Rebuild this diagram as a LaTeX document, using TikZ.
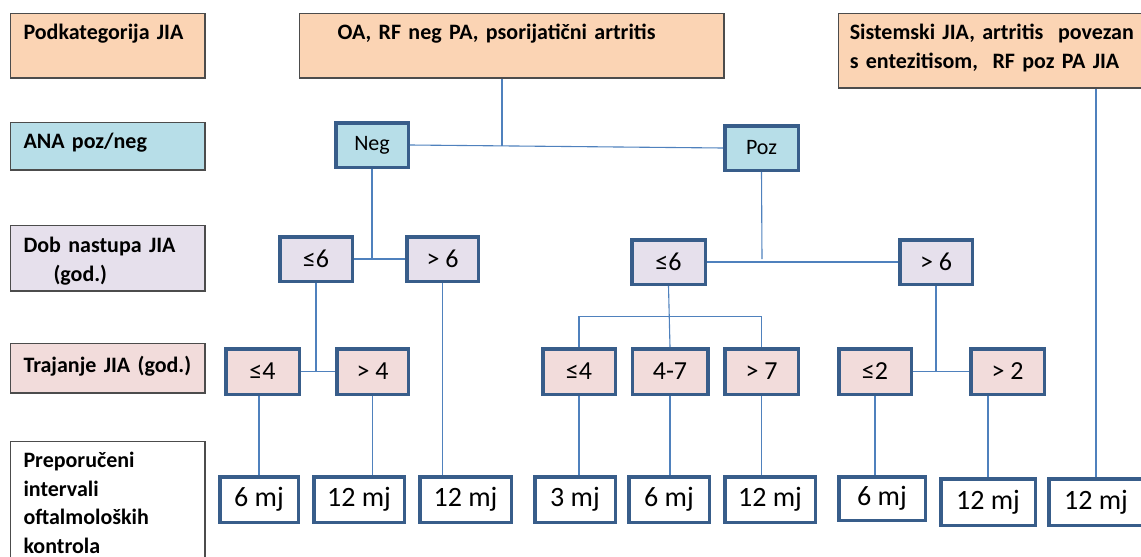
\documentclass[tikz,border=0pt]{standalone}
\usepackage{fontspec}
\setmainfont{Carlito}
\definecolor{peach}{HTML}{FBD4B4}
\definecolor{anab}{HTML}{B7DEE8}
\definecolor{dobb}{HTML}{E6E0EC}
\definecolor{trab}{HTML}{F2DCDB}
\definecolor{rub}{HTML}{385D8A}
\definecolor{vezab}{HTML}{4F81BD}
\begin{document}
\begin{tikzpicture}[x=1pt, y=-1pt,
    lbl/.style={draw=black!70, line width=1.5pt, anchor=north west, align=left, inner xsep=13pt, inner ysep=0pt, text width=168.5pt, font=\bfseries\fontsize{22}{28.5}\selectfont},
    kat/.style={draw=rub, line width=3.5pt, inner sep=0pt, minimum width=73pt, minimum height=44.5pt, font=\fontsize{26}{30}\selectfont},
    mj/.style={kat, fill=white, minimum height=45.5pt, font=\fontsize{28}{32}\selectfont},
    conn/.style={draw=vezab, line width=1.1pt}]
    \useasboundingbox (0,0) rectangle (1141,557);

    % lijevi stupac
    \node[lbl, fill=peach, text height=26.25pt, text depth=38.25pt] (podk) at (9.75,12.75) {Podkategorija JIA};
    \node[lbl, fill=anab, text height=26.25pt, text depth=21.25pt] (ana) at (9.75,121.75) {ANA poz/neg};
    \node[lbl, fill=dobb, text height=27.25pt, text depth=38.25pt] (dob) at (9.75,224.75) {Dob nastupa JIA\\\hspace*{30pt}(god.)};
    \node[lbl, fill=trab, text height=29.25pt, text depth=20.25pt] (traj) at (9.75,342.75) {Trajanje JIA (god.)};
    \node[lbl, fill=white, text height=26.25pt, text depth=130pt] (prep) at (9.75,440.75) {Preporučeni\\intervali\\oftalmoloških\\kontrola};

    % podkategorije
    \node[lbl, fill=peach, inner xsep=38pt, text width=348.5pt, text height=26.25pt, text depth=38.25pt] (oa) at (298.75,12.75) {OA, RF neg PA, psorijatični artritis};
    \node[lbl, fill=peach, inner xsep=11.25pt, text width=300pt, text height=26.25pt, text depth=48.25pt] (sist) at (837.75,12.75) {Sistemski JIA, artritis~ povezan\\s entezitisom,~ RF poz PA JIA};

    % ANA
    \node[kat, fill=anab, minimum width=72.5pt, font=\fontsize{22}{26}\selectfont] (neg) at (372,145) {Neg};
    \node[kat, fill=anab, minimum width=73.5pt, font=\fontsize{22}{26}\selectfont] (poz) at (761.5,148) {Poz};

    % dob nastupa
    \node[kat, fill=dobb, minimum width=72.5pt] (dl6) at (316,259) {≤6};
    \node[kat, fill=dobb, minimum width=71.5pt] (dg6) at (442.5,259) {> 6};
    \node[kat, fill=dobb, minimum width=73.5pt] (dr6) at (668.5,262) {≤6};
    \node[kat, fill=dobb, minimum width=72.5pt] (drg6) at (936,262) {> 6};

    % trajanje
    \node[kat, fill=trab, minimum width=73.5pt, minimum height=45.5pt] (tl4) at (262.5,371.5) {≤4};
    \node[kat, fill=trab, minimum width=71.5pt, minimum height=45.5pt] (tg4) at (372.5,371.5) {> 4};
    \node[kat, fill=trab, minimum width=72.5pt, minimum height=45.5pt] (tr4) at (579,371.5) {≤4};
    \node[kat, fill=trab, minimum width=75.5pt, minimum height=45.5pt] (tr47) at (670,371.5) {4-7};
    \node[kat, fill=trab, minimum width=73.5pt, minimum height=45.5pt] (trg7) at (761.5,371.5) {> 7};
    \node[kat, fill=trab, minimum width=72.5pt, minimum height=45.5pt] (tl2) at (875,371.5) {≤2};
    \node[kat, fill=trab, minimum width=73.5pt, minimum height=45.5pt] (tg2) at (1007.5,371.5) {> 2};

    % kontrole
    \node[mj, minimum width=78.5pt] (m1) at (259,499.5) {6 mj};
    \node[mj, minimum width=90.5pt] (m2) at (359,499.5) {12 mj};
    \node[mj, minimum width=91.5pt] (m3) at (465.5,499.5) {12 mj};
    \node[mj, minimum width=80.5pt] (m4) at (575,499.5) {3 mj};
    \node[mj, minimum width=80.5pt] (m5) at (669,499.5) {6 mj};
    \node[mj, minimum width=90.5pt] (m6) at (770,499.5) {12 mj};
    \node[mj, minimum width=86.5pt, minimum height=43.5pt] (m7) at (882,498.5) {6 mj};
    \node[mj, minimum width=94.5pt, minimum height=46.5pt] (m8) at (988,502) {12 mj};
    \node[mj, minimum width=94.5pt, minimum height=46.5pt] (m9) at (1096,502) {12 mj};

    \coordinate (ana1) at (502,146);
    \coordinate (poz1) at (762,259);
    \coordinate (v1) at (669,316.5);

    \draw[conn] (oa.south -| ana1) -- (ana1);
    \draw[conn] (neg.east) -- (poz.west);
    \draw[conn] (neg.south) -- (neg.south |- dl6.east);
    \draw[conn] (dl6.east) -- (dg6.west);
    \draw[conn] (poz.south) -- (poz1);
    \draw[conn] (dr6.east) -- (drg6.west);
    \draw[conn] (dl6.south) -- (dl6.south |- tl4.east);
    \draw[conn] (tl4.east) -- (tg4.west);
    \draw[conn] (dr6.south) -- (tr47.north);
    \draw[conn] (tr4.north) |- (v1) -| (trg7.north);
    \draw[conn] (drg6.south) -- (drg6.south |- tl2.east);
    \draw[conn] (tl2.east) -- (tg2.west);
    \draw[conn] (m1.north) -- (m1.north |- tl4.south);
    \draw[conn] (tg4.south) -- (tg4.south |- m2.north);
    \draw[conn] (dg6.south) -- (dg6.south |- m3.north);
    \draw[conn] (tr4.south) -- (tr4.south |- m4.north);
    \draw[conn] (tr47.south) -- (tr47.south |- m5.north);
    \draw[conn] (trg7.south) -- (trg7.south |- m6.north);
    \draw[conn] (tl2.south) -- (tl2.south |- m7.north);
    \draw[conn] (m8.north) -- (m8.north |- tg2.south);
    \draw[conn] (m9.north) -- (m9.north |- sist.south);
\end{tikzpicture}
\end{document}
